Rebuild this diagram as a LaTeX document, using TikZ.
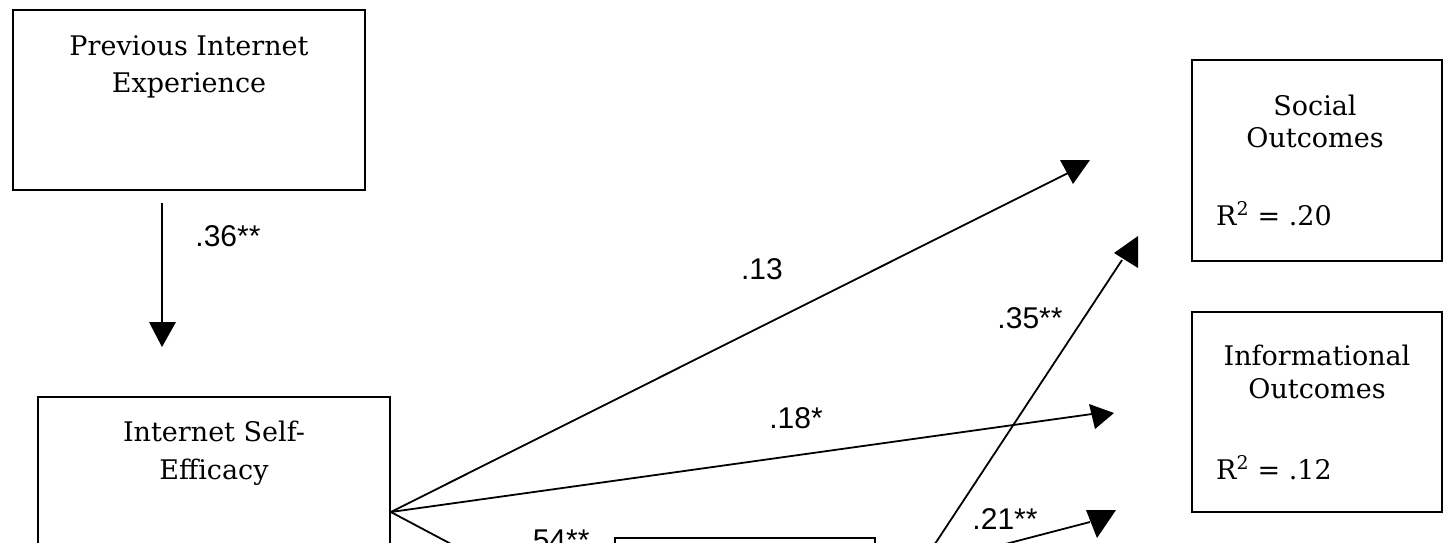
\documentclass[tikz,border=0pt]{standalone}
\usepackage{fontspec}
\setmainfont{DejaVu Serif}
\newfontfamily\labfont{Liberation Sans}
\begin{document}
\begin{tikzpicture}[x=1pt,y=-1pt,
  box/.style={draw, line width=1.6pt, inner sep=0pt},
  ttl/.style={anchor=base, inner sep=0pt, font=\fontsize{27}{32}\selectfont},
  coef/.style={inner sep=0pt, font=\labfont\fontsize{30}{34}\selectfont},
  conn/.style={line width=1.8pt},
  head/.style={fill=black}]
\useasboundingbox (0,0) rectangle (1443,542);
\clip (0,0) rectangle (1443,542);
\fill[white] (0,0) rectangle (1443,542);

% boxes
\node[box, minimum width=352pt, minimum height=180pt] (pie) at (189,100) {};
\node[box, minimum width=352pt, minimum height=230pt] (ise) at (214,512) {};
\node[box, minimum width=250pt, minimum height=201pt] (soc) at (1317,160.5) {};
\node[box, minimum width=250pt, minimum height=200pt] (inf) at (1317,412) {};
\node[box, minimum width=260pt, minimum height=160pt] (med) at (745,618) {};

% box texts
\node[ttl] (pieA) at (189,55) {Previous Internet};
\node[ttl] (pieB) at (189,92) {Experience};
\node[ttl] (iseA) at (214,441) {Internet Self-};
\node[ttl] (iseB) at (214,479) {Efficacy};
\node[ttl] (socA) at (1315,115) {Social};
\node[ttl] (socB) at (1315,147) {Outcomes};
\node[ttl, anchor=base west] (socR) at (1216,225) {R\textsuperscript{2} = .20};
\node[ttl] (infA) at (1317,365) {Informational};
\node[ttl] (infB) at (1317,398) {Outcomes};
\node[ttl, anchor=base west] (infR) at (1216,479) {R\textsuperscript{2} = .12};

% free ends of connectors
\coordinate (p0) at (162,203);
\coordinate (p1) at (162,330);
\coordinate (t1) at (1070,172);
\coordinate (t2) at (1092,414);
\coordinate (m1) at (615,631);
\coordinate (s3) at (898,600);
\coordinate (t3) at (1122,260);
\coordinate (s4) at (875,578);
\coordinate (t4) at (1090,522);

% connectors
\draw[conn] (p0) -- (p1);
\draw[conn] (ise.east) -- (t1);
\draw[conn] (ise.east) -- (t2);
\draw[conn] (ise.east) -- (m1);
\draw[conn] (s3) -- (t3);
\draw[conn] (s4) -- (t4);

% arrowheads
\fill[head] (149,322) -- (176,322) -- (162,347) -- cycle;
\fill[head] (1060,160) -- (1090,160) -- (1073,184) -- cycle;
\fill[head] (1089,404) -- (1114,413) -- (1095,429) -- cycle;
\fill[head] (1138,236) -- (1138,268) -- (1114,253) -- cycle;
\fill[head] (1086,510) -- (1116,510) -- (1097,538) -- cycle;

% coefficients
\node[coef] (c36) at (228,236) {.36**};
\node[coef] (c13) at (762,269) {.13};
\node[coef] (c18) at (796,418) {.18*};
\node[coef] (c35) at (1030,318) {.35**};
\node[coef] (c21) at (1005,519) {.21**};
\node[coef] (c54) at (557,540) {.54**};
\end{tikzpicture}
\end{document}
